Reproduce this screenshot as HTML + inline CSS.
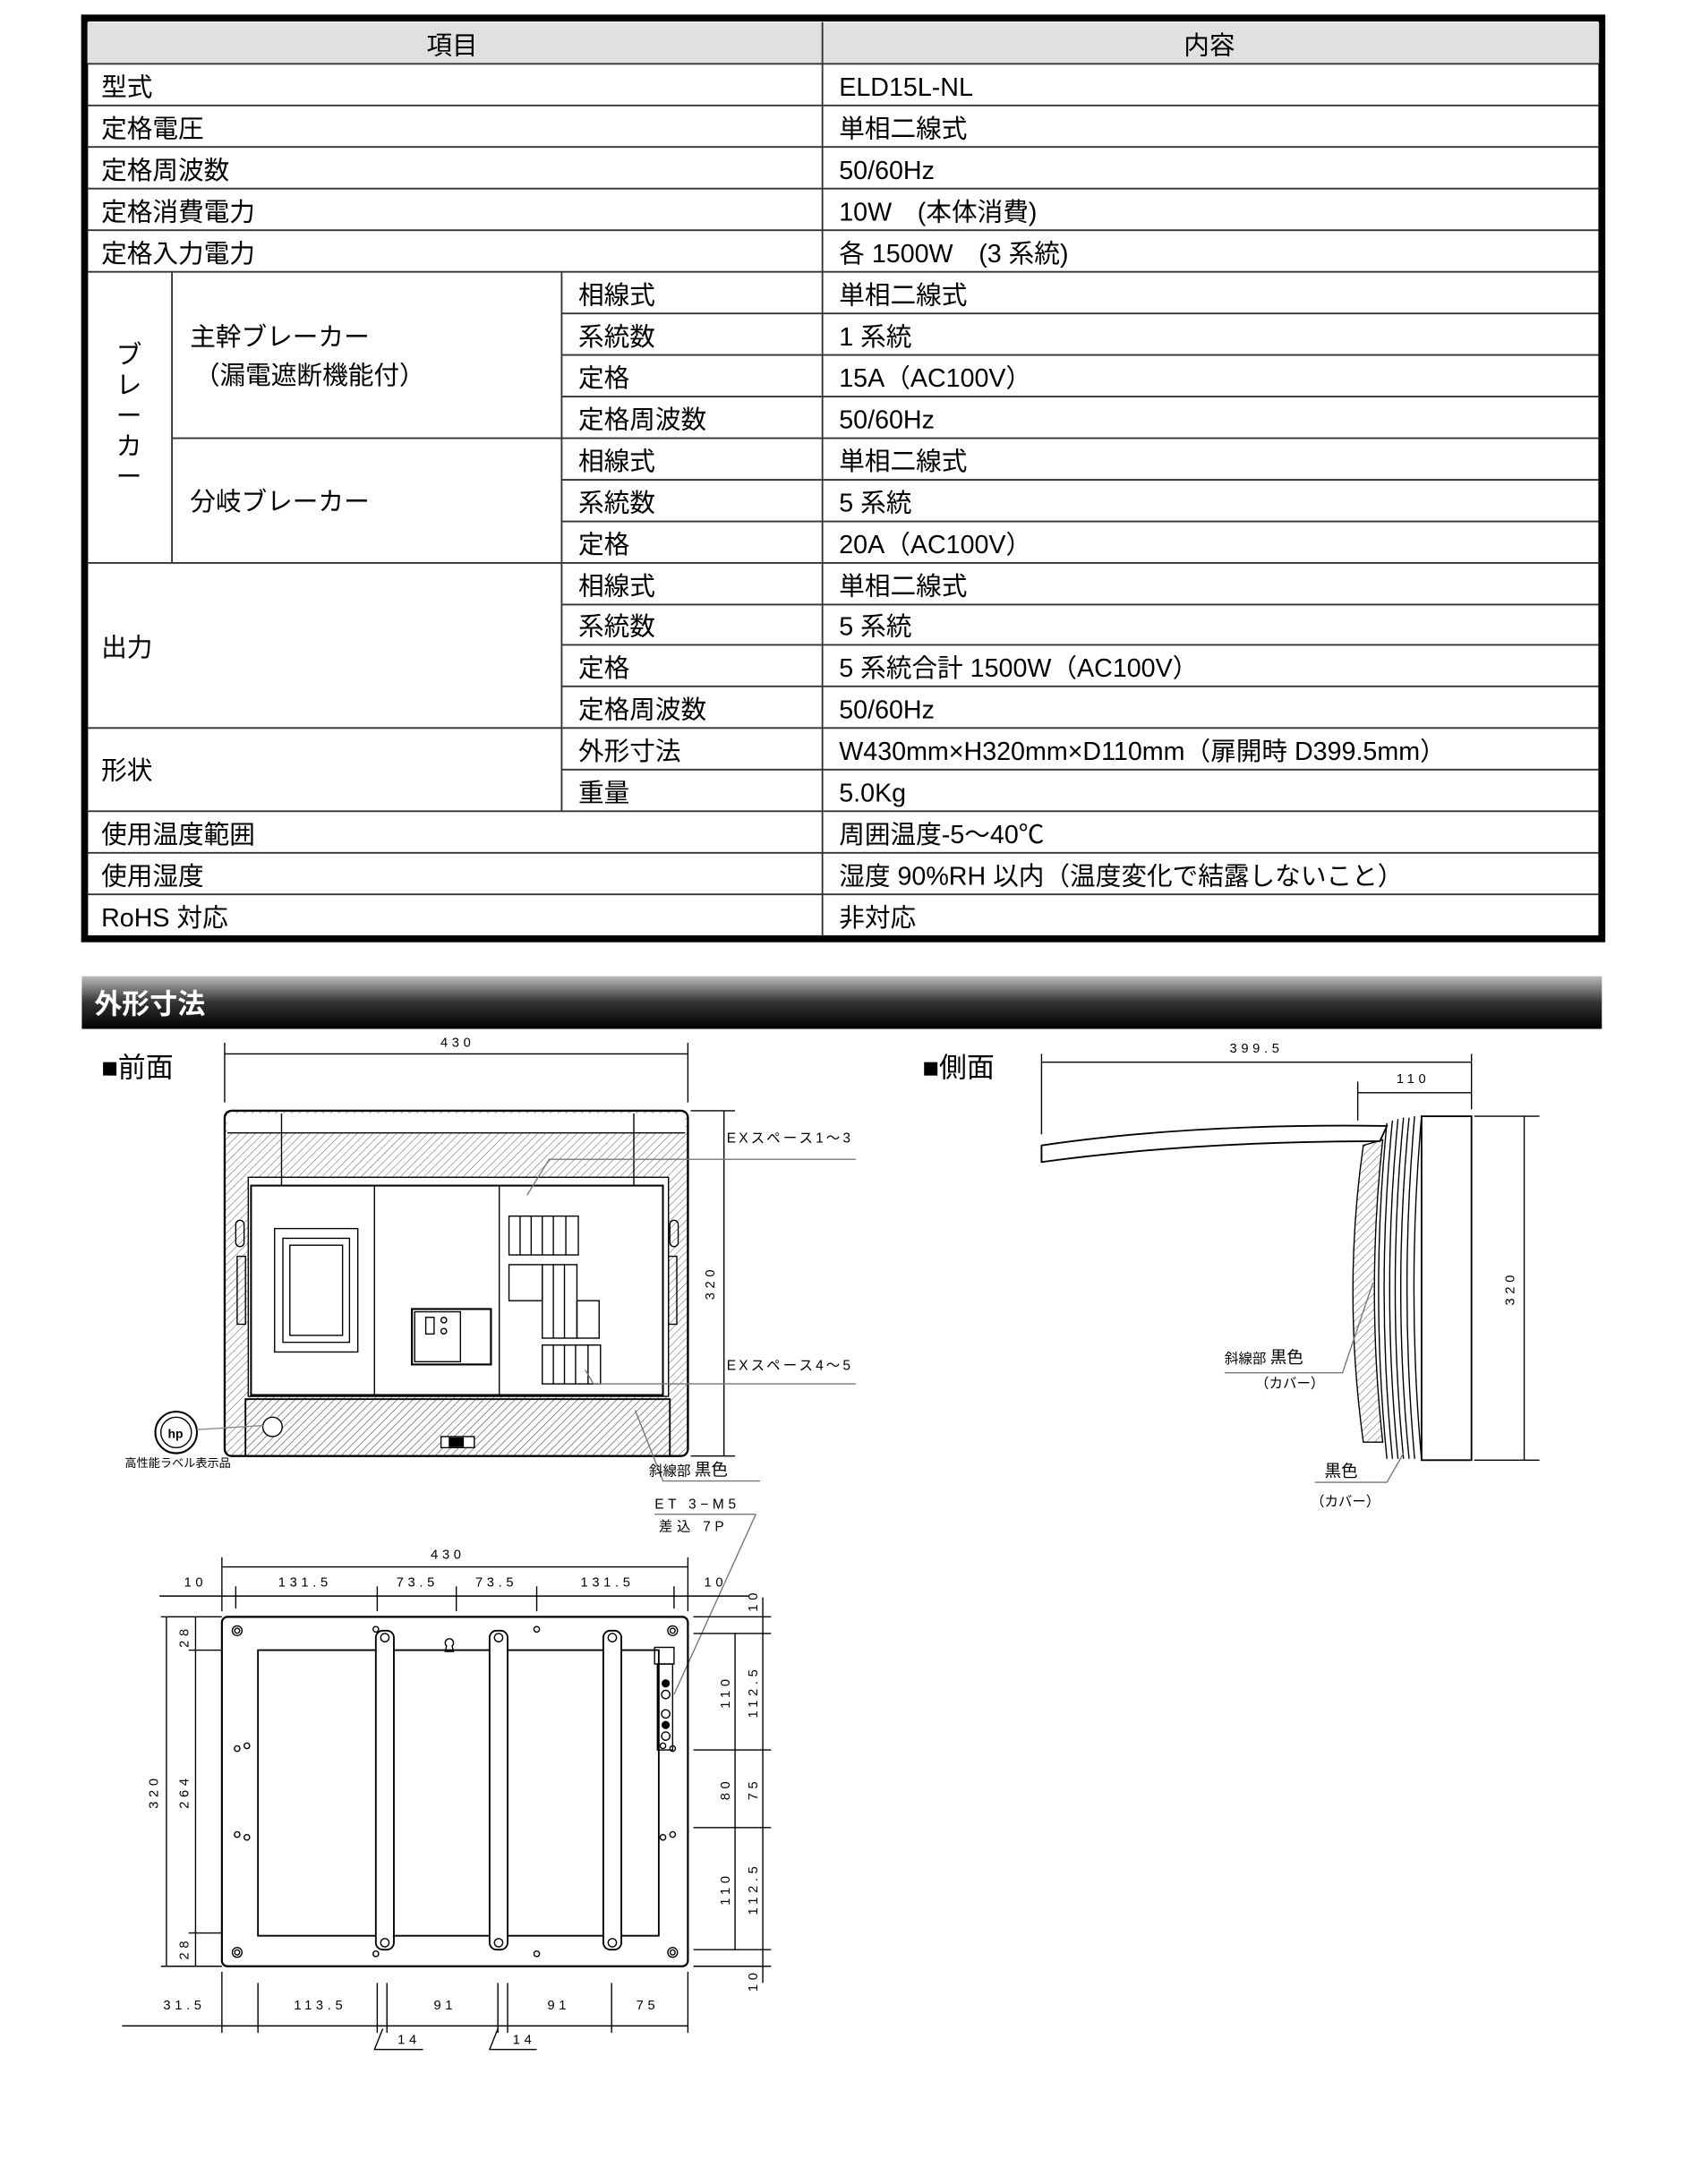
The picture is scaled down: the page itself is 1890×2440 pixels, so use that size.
<!DOCTYPE html>
<html><head><meta charset="utf-8"><style>
html,body{margin:0;padding:0;background:#fff}
svg{display:block}
text{font-family:"Liberation Sans","Noto Sans CJK JP",sans-serif;fill:#000}
.t{font-size:18.5px}
.d{font-size:9.5px;letter-spacing:3px}
.s{font-size:10px}
</style></head><body>
<svg width="1890" height="2440" viewBox="0 0 1220 1575" xmlns="http://www.w3.org/2000/svg">
<defs>
<pattern id="h" width="4" height="4" patternUnits="userSpaceOnUse" patternTransform="rotate(45)">
<line x1="0" y1="0" x2="0" y2="4" stroke="#666" stroke-width="0.7"/></pattern>
<linearGradient id="g" x1="0" y1="0" x2="0" y2="1"><stop offset="0" stop-color="#bbb"/><stop offset="0.5" stop-color="#333"/><stop offset="1" stop-color="#000"/></linearGradient>
</defs>
<!-- TABLE -->
<rect x="61" y="13" width="1094" height="664" fill="#fff" stroke="#000" stroke-width="5"/>
<rect x="63" y="16" width="1090" height="30" fill="#e0e0e0"/>
<g stroke="#333" stroke-width="1.2">
<line x1="63" y1="46" x2="1153" y2="46"/>
<line x1="593" y1="16" x2="593" y2="675"/>
<!-- full-width row lines for rows 1-5, 19-21 -->
<line x1="63" y1="76" x2="1153" y2="76"/><line x1="63" y1="106" x2="1153" y2="106"/>
<line x1="63" y1="136" x2="1153" y2="136"/><line x1="63" y1="166" x2="1153" y2="166"/>
<line x1="63" y1="196" x2="1153" y2="196"/>
<line x1="405" y1="226" x2="1153" y2="226"/><line x1="405" y1="256" x2="1153" y2="256"/><line x1="405" y1="286" x2="1153" y2="286"/>
<line x1="124" y1="316" x2="1153" y2="316"/>
<line x1="405" y1="346" x2="1153" y2="346"/><line x1="405" y1="376" x2="1153" y2="376"/>
<line x1="63" y1="406" x2="1153" y2="406"/>
<line x1="405" y1="436" x2="1153" y2="436"/><line x1="405" y1="465" x2="1153" y2="465"/><line x1="405" y1="495" x2="1153" y2="495"/>
<line x1="63" y1="525" x2="1153" y2="525"/>
<line x1="405" y1="555" x2="1153" y2="555"/>
<line x1="63" y1="585" x2="1153" y2="585"/><line x1="63" y1="615" x2="1153" y2="615"/><line x1="63" y1="645" x2="1153" y2="645"/>
<line x1="124" y1="196" x2="124" y2="406"/>
<line x1="405" y1="196" x2="405" y2="585"/>
</g>
<g class="t">
<text x="326" y="39" text-anchor="middle">項目</text><text x="872" y="39" text-anchor="middle">内容</text>
<text x="73" y="69">型式</text><text x="605" y="69">ELD15L-NL</text>
<text x="73" y="99">定格電圧</text><text x="605" y="99">単相二線式</text>
<text x="73" y="129">定格周波数</text><text x="605" y="129">50/60Hz</text>
<text x="73" y="159">定格消費電力</text><text x="605" y="159">10W　(本体消費)</text>
<text x="73" y="189">定格入力電力</text><text x="605" y="189">各 1500W　(3 系統)</text>
<text x="137" y="249">主幹ブレーカー</text><text x="140" y="277">（漏電遮断機能付）</text>
<text x="137" y="368">分岐ブレーカー</text>
<text x="73" y="473">出力</text><text x="73" y="562">形状</text>
<text x="417" y="219">相線式</text><text x="605" y="219">単相二線式</text>
<text x="417" y="249">系統数</text><text x="605" y="249">1 系統</text>
<text x="417" y="279">定格</text><text x="605" y="279">15A（AC100V）</text>
<text x="417" y="309">定格周波数</text><text x="605" y="309">50/60Hz</text>
<text x="417" y="339">相線式</text><text x="605" y="339">単相二線式</text>
<text x="417" y="369">系統数</text><text x="605" y="369">5 系統</text>
<text x="417" y="399">定格</text><text x="605" y="399">20A（AC100V）</text>
<text x="417" y="429">相線式</text><text x="605" y="429">単相二線式</text>
<text x="417" y="458">系統数</text><text x="605" y="458">5 系統</text>
<text x="417" y="488">定格</text><text x="605" y="488">5 系統合計 1500W（AC100V）</text>
<text x="417" y="518">定格周波数</text><text x="605" y="518">50/60Hz</text>
<text x="417" y="548">外形寸法</text><text x="605" y="548">W430mm×H320mm×D110mm（扉開時 D399.5mm）</text>
<text x="417" y="578">重量</text><text x="605" y="578">5.0Kg</text>
<text x="73" y="608">使用温度範囲</text><text x="605" y="608">周囲温度-5～40℃</text>
<text x="73" y="638">使用湿度</text><text x="605" y="638">湿度 90%RH 以内（温度変化で結露しないこと）</text>
<text x="73" y="668">RoHS 対応</text><text x="605" y="668">非対応</text>
</g>
<g class="t" text-anchor="middle">
<text x="93" y="262">ブ</text><text x="93" y="284">レ</text><text x="93" y="306">ー</text><text x="93" y="328">カ</text><text x="93" y="350">ー</text>
</g>
<!-- Section bar -->
<rect x="59" y="704" width="1096" height="38" fill="url(#g)"/>
<text x="68" y="731" style="font-size:20px;font-weight:bold;fill:#fff">外形寸法</text>
<text x="73" y="777" style="font-size:20px">■前面</text>
<text x="665" y="777" style="font-size:20px">■側面</text>

<g stroke="#000" stroke-width="0.9" fill="none">
<!-- FRONT VIEW -->
<line x1="162" y1="760" x2="496" y2="760"/><line x1="162" y1="752" x2="162" y2="795"/><line x1="496" y1="752" x2="496" y2="795"/>
<rect x="162" y="801" width="334" height="249" rx="5" fill="url(#h)" stroke-width="1.5"/>
<rect x="164" y="803" width="330" height="14" fill="#fff" stroke="none"/>
<line x1="164" y1="817" x2="494" y2="817"/>
<rect x="179" y="849" width="303" height="158" fill="#fff"/>
<rect x="181" y="855" width="297" height="151" stroke-width="1.3"/>
<line x1="270" y1="855" x2="270" y2="1006"/><line x1="360" y1="855" x2="360" y2="1006"/>
<rect x="177" y="1009" width="306" height="41" fill="url(#h)" stroke-width="1.2"/>
<line x1="203" y1="803" x2="203" y2="855"/><line x1="457" y1="803" x2="457" y2="855"/>
<rect x="198" y="886" width="60" height="89"/><rect x="204" y="893" width="48" height="75"/><rect x="209" y="898" width="38" height="65"/>
<rect x="297" y="944" width="57" height="40" stroke-width="1.4"/><rect x="299" y="946" width="33" height="36"/>
<rect x="307" y="950" width="6" height="12"/><circle cx="320" cy="952" r="2"/><circle cx="320" cy="960" r="2"/>
<rect x="367" y="877" width="50" height="28"/><line x1="375" y1="877" x2="375" y2="905"/><line x1="383" y1="877" x2="383" y2="905"/><line x1="391" y1="877" x2="391" y2="905"/><line x1="399" y1="877" x2="399" y2="905"/><line x1="408" y1="877" x2="408" y2="905"/>
<rect x="367" y="912" width="24" height="26"/><rect x="391" y="912" width="25" height="53"/><line x1="399" y1="912" x2="399" y2="965"/><line x1="407" y1="912" x2="407" y2="965"/><rect x="416" y="938" width="16" height="27"/>
<rect x="391" y="970" width="42" height="28"/><line x1="399" y1="970" x2="399" y2="998"/><line x1="407" y1="970" x2="407" y2="998"/><line x1="415" y1="970" x2="415" y2="998"/><line x1="424" y1="970" x2="424" y2="998"/>
<rect x="170" y="880" width="6" height="19" rx="3"/><rect x="171" y="906" width="6" height="49"/>
<rect x="483" y="880" width="6" height="19" rx="3"/><rect x="482" y="906" width="6" height="49"/>
<circle cx="196.5" cy="1029" r="7" fill="#fff"/>
<rect x="318" y="1036" width="24" height="8" fill="#fff"/><rect x="324" y="1037" width="10" height="6" fill="#000"/>
<circle cx="127" cy="1033" r="15" stroke-width="1.3" fill="#fff"/><circle cx="127" cy="1033" r="11"/>
<line x1="142" y1="1031" x2="190" y2="1028" stroke="#888"/>
<!-- 320 dim -->
<line x1="522" y1="801" x2="522" y2="1050"/><line x1="498" y1="801" x2="530" y2="801"/><line x1="498" y1="1050" x2="530" y2="1050"/>
<!-- EX leaders -->
<polyline points="380,862 396,836 617,836" stroke="#777"/>
<polyline points="422,988 428,998 617,998" stroke="#777"/>
<polyline points="458,1017 478,1068 548,1068" stroke="#777"/>
<line x1="472" y1="1092" x2="545" y2="1092" stroke="#777"/>
<line x1="545" y1="1092" x2="486" y2="1222" stroke="#777"/>

<!-- SIDE VIEW -->
<line x1="751" y1="766" x2="1061" y2="766"/><line x1="751" y1="760" x2="751" y2="818"/><line x1="1061" y1="760" x2="1061" y2="800"/>
<line x1="979" y1="788" x2="1061" y2="788"/><line x1="979" y1="780" x2="979" y2="808"/>
<rect x="1025" y="805" width="36" height="248" stroke-width="1.2"/>
<path d="M751,826 Q860,810 1000,812 L995,823 Q860,823 751,838 Z" fill="#fff" stroke-width="1.2"/>
<path d="M997,822 Q985,930 997,1040 L983,1040 Q968,930 983,826 Z" fill="url(#h)"/>
<path d="M1000,810 Q988,930 1000,1052"/><path d="M1004,808 Q992,930 1004,1052"/><path d="M1008,807 Q996,930 1008,1052"/>
<path d="M1012,806 Q1000,930 1012,1052"/><path d="M1016,806 Q1004,930 1016,1052"/><path d="M1020,805 Q1009,930 1020,1052"/><path d="M1025,805 Q1014,930 1025,1053"/>
<line x1="1099" y1="805" x2="1099" y2="1053"/><line x1="1063" y1="805" x2="1110" y2="805"/><line x1="1063" y1="1053" x2="1110" y2="1053"/>
<polyline points="883,990 968,990 990,925" stroke="#777"/>
<polyline points="948,1069 1000,1069 1012,1048" stroke="#777"/>

<!-- BACK VIEW -->
<line x1="160" y1="1130" x2="496" y2="1130"/>
<line x1="115" y1="1151" x2="540" y2="1151"/>
<line x1="160" y1="1123" x2="160" y2="1162"/><line x1="496" y1="1123" x2="496" y2="1162"/>
<line x1="170" y1="1144" x2="170" y2="1160"/><line x1="272" y1="1144" x2="272" y2="1162"/><line x1="329" y1="1144" x2="329" y2="1162"/><line x1="387" y1="1144" x2="387" y2="1162"/><line x1="486" y1="1144" x2="486" y2="1160"/>
<rect x="160" y="1166" width="336" height="252" rx="4" stroke-width="1.4"/>
<rect x="186" y="1190" width="289" height="206" stroke-width="1.2"/>
<rect x="271" y="1176" width="13" height="230" rx="5" fill="#fff" stroke-width="1.2"/>
<rect x="353" y="1176" width="13" height="230" rx="5" fill="#fff" stroke-width="1.2"/>
<rect x="435" y="1176" width="13" height="230" rx="5" fill="#fff" stroke-width="1.2"/>
<circle cx="277.5" cy="1181" r="3"/><circle cx="277.5" cy="1401" r="3"/><circle cx="359.5" cy="1181" r="3"/><circle cx="359.5" cy="1401" r="3"/><circle cx="441.5" cy="1181" r="3"/><circle cx="441.5" cy="1401" r="3"/>
<circle cx="171" cy="1176" r="3.5"/><circle cx="171" cy="1176" r="1.8"/><circle cx="485" cy="1176" r="3.5"/><circle cx="485" cy="1176" r="1.8"/>
<circle cx="171" cy="1408" r="3.5"/><circle cx="171" cy="1408" r="1.8"/><circle cx="485" cy="1408" r="3.5"/><circle cx="485" cy="1408" r="1.8"/>
<circle cx="271" cy="1175" r="2"/><circle cx="387" cy="1175" r="2"/><circle cx="271" cy="1409" r="2"/><circle cx="387" cy="1409" r="2"/>
<circle cx="171" cy="1261" r="2"/><circle cx="178" cy="1259" r="2"/><circle cx="171" cy="1323" r="2"/><circle cx="178" cy="1325" r="2"/>
<circle cx="478" cy="1259" r="2"/><circle cx="485" cy="1261" r="2"/><circle cx="478" cy="1325" r="2"/><circle cx="485" cy="1323" r="2"/>
<path d="M322,1187 a3,3 0 1 1 4,0 l1,4 h-6 z"/>
<rect x="472" y="1188" width="14" height="12"/><rect x="474" y="1200" width="11" height="62"/>
<circle cx="480" cy="1214" r="2.5" fill="#000"/><circle cx="480" cy="1222" r="3"/><circle cx="480" cy="1236" r="3"/><circle cx="480" cy="1244" r="2.5" fill="#000"/><circle cx="480" cy="1252" r="3"/>
<!-- left dims -->
<line x1="120" y1="1166" x2="120" y2="1418"/><line x1="141" y1="1166" x2="141" y2="1418"/>
<line x1="116" y1="1166" x2="160" y2="1166"/><line x1="116" y1="1418" x2="160" y2="1418"/>
<line x1="136" y1="1190" x2="160" y2="1190"/><line x1="136" y1="1394" x2="160" y2="1394"/>
<!-- right dims -->
<line x1="530" y1="1178" x2="530" y2="1406"/><line x1="550" y1="1152" x2="550" y2="1430"/>
<line x1="500" y1="1166" x2="556" y2="1166"/><line x1="500" y1="1178" x2="556" y2="1178"/>
<line x1="500" y1="1262" x2="556" y2="1262"/><line x1="500" y1="1318" x2="556" y2="1318"/>
<line x1="500" y1="1406" x2="556" y2="1406"/><line x1="500" y1="1418" x2="556" y2="1418"/>
<!-- bottom dims -->
<line x1="88" y1="1461" x2="496" y2="1461"/>
<line x1="160" y1="1422" x2="160" y2="1466"/><line x1="186" y1="1430" x2="186" y2="1466"/><line x1="272" y1="1430" x2="272" y2="1466"/><line x1="279" y1="1430" x2="279" y2="1466"/>
<line x1="359" y1="1430" x2="359" y2="1466"/><line x1="366" y1="1430" x2="366" y2="1466"/><line x1="441" y1="1430" x2="441" y2="1466"/><line x1="496" y1="1422" x2="496" y2="1466"/>
<polyline points="276,1463 270,1478 305,1478"/><polyline points="359,1463 353,1478 387,1478"/>
</g>
<g class="d" text-anchor="middle">
<text x="330" y="755">430</text>
<text x="906" y="759">399.5</text><text x="1019" y="781">110</text>
<text x="323" y="1124">430</text>
<text x="141" y="1144">10</text><text x="220" y="1144">131.5</text><text x="301" y="1144">73.5</text><text x="358" y="1144">73.5</text><text x="438" y="1144">131.5</text><text x="516" y="1144">10</text>
<text x="133" y="1449">31.5</text><text x="231" y="1449">113.5</text><text x="321" y="1449">91</text><text x="403" y="1449">91</text><text x="467" y="1449">75</text>
<text x="378" y="1474">14</text><text x="295" y="1474">14</text>
</g>
<g class="d" text-anchor="middle">
<text transform="translate(515,925) rotate(-90)">320</text>
<text transform="translate(1092,929) rotate(-90)">320</text>
<text transform="translate(114,1292) rotate(-90)">320</text>
<text transform="translate(136,1292) rotate(-90)">264</text>
<text transform="translate(136,1180) rotate(-90)">28</text>
<text transform="translate(136,1405) rotate(-90)">28</text>
<text transform="translate(546,1154) rotate(-90)">10</text>
<text transform="translate(546,1220) rotate(-90)">112.5</text>
<text transform="translate(526,1220) rotate(-90)">110</text>
<text transform="translate(526,1290) rotate(-90)">80</text>
<text transform="translate(546,1290) rotate(-90)">75</text>
<text transform="translate(526,1362) rotate(-90)">110</text>
<text transform="translate(546,1362) rotate(-90)">112.5</text>
<text transform="translate(546,1428) rotate(-90)">10</text>
</g>
<g class="s">
<text x="524" y="824" style="letter-spacing:2px">EXスペース1～3</text>
<text x="524" y="988" style="letter-spacing:2px">EXスペース4～5</text>
<text x="468" y="1064">斜線部 <tspan style="font-size:12px">黒色</tspan></text>
<text x="472" y="1088" style="letter-spacing:3px">ET  3−M5</text>
<text x="475" y="1104" style="letter-spacing:3px">差込  7P</text>
<text x="883" y="983">斜線部 <tspan style="font-size:12px">黒色</tspan></text>
<text x="905" y="1001">（カバー）</text>
<text x="955" y="1065" style="font-size:12px">黒色</text>
<text x="945" y="1086">（カバー）</text>
<text x="90" y="1058" style="font-size:8.5px">高性能ラベル表示品</text>
<text x="121" y="1037" style="font-size:9px;font-weight:bold">hp</text>
</g>
</svg>
</body></html>
